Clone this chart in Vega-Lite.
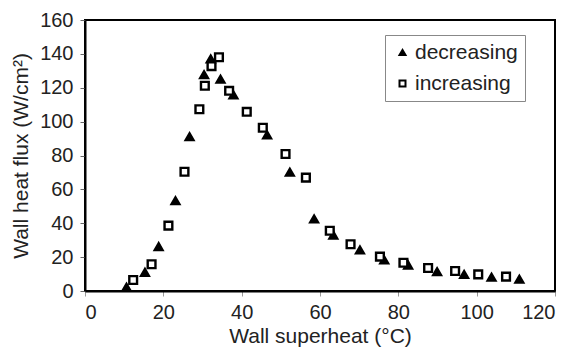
{
  "$schema": "https://vega.github.io/schema/vega-lite/v6.json",
  "width": 470,
  "height": 271,
  "autosize": "none",
  "padding": {"left": 85, "top": 20, "right": 19, "bottom": 56},
  "background": "white",
  "config": {
    "font": "Liberation Sans",
    "view": {"stroke": "black", "strokeWidth": 2},
    "axis": {"grid": false}
  },
  "data": {
    "values": [
      {"x": 10.6, "y": 2.2, "series": "decreasing"},
      {"x": 15.3, "y": 11.0, "series": "decreasing"},
      {"x": 18.8, "y": 26.2, "series": "decreasing"},
      {"x": 23.1, "y": 53.3, "series": "decreasing"},
      {"x": 26.7, "y": 91.1, "series": "decreasing"},
      {"x": 30.4, "y": 127.7, "series": "decreasing"},
      {"x": 32.1, "y": 137.0, "series": "decreasing"},
      {"x": 34.6, "y": 125.0, "series": "decreasing"},
      {"x": 37.9, "y": 115.7, "series": "decreasing"},
      {"x": 46.5, "y": 92.1, "series": "decreasing"},
      {"x": 52.3, "y": 70.1, "series": "decreasing"},
      {"x": 58.5, "y": 42.5, "series": "decreasing"},
      {"x": 63.4, "y": 33.0, "series": "decreasing"},
      {"x": 70.2, "y": 24.2, "series": "decreasing"},
      {"x": 76.4, "y": 18.3, "series": "decreasing"},
      {"x": 82.5, "y": 15.3, "series": "decreasing"},
      {"x": 89.9, "y": 11.4, "series": "decreasing"},
      {"x": 96.8, "y": 9.8, "series": "decreasing"},
      {"x": 103.8, "y": 8.1, "series": "decreasing"},
      {"x": 110.9, "y": 6.9, "series": "decreasing"},
      {"x": 12.3, "y": 6.5, "series": "increasing"},
      {"x": 17.0, "y": 15.8, "series": "increasing"},
      {"x": 21.3, "y": 38.6, "series": "increasing"},
      {"x": 25.4, "y": 70.4, "series": "increasing"},
      {"x": 29.2, "y": 107.3, "series": "increasing"},
      {"x": 30.6, "y": 121.2, "series": "increasing"},
      {"x": 32.3, "y": 132.8, "series": "increasing"},
      {"x": 34.2, "y": 138.0, "series": "increasing"},
      {"x": 36.8, "y": 118.2, "series": "increasing"},
      {"x": 41.3, "y": 105.8, "series": "increasing"},
      {"x": 45.4, "y": 96.4, "series": "increasing"},
      {"x": 51.2, "y": 80.9, "series": "increasing"},
      {"x": 56.4, "y": 66.9, "series": "increasing"},
      {"x": 62.5, "y": 35.6, "series": "increasing"},
      {"x": 67.8, "y": 27.6, "series": "increasing"},
      {"x": 75.3, "y": 20.3, "series": "increasing"},
      {"x": 81.3, "y": 16.7, "series": "increasing"},
      {"x": 87.6, "y": 13.6, "series": "increasing"},
      {"x": 94.5, "y": 11.8, "series": "increasing"},
      {"x": 100.4, "y": 9.8, "series": "increasing"},
      {"x": 107.5, "y": 8.5, "series": "increasing"}
    ]
  },
  "mark": {"type": "point", "filled": true, "stroke": "black", "strokeWidth": 2.4, "opacity": 1},
  "encoding": {
    "x": {
      "field": "x", "type": "quantitative",
      "scale": {"domain": [0, 120], "nice": false},
      "axis": {
        "title": "Wall superheat (°C)", "values": [0, 20, 40, 60, 80, 100, 120],
        "domainColor": "black", "domainWidth": 2, "tickColor": "#999", "tickSize": 5,
        "labelFontSize": 20, "labelColor": "#222", "labelPadding": 6,
        "titleFontSize": 21, "titleFontWeight": "normal", "titleColor": "#222", "titlePadding": 3
      }
    },
    "y": {
      "field": "y", "type": "quantitative",
      "scale": {"domain": [0, 160], "nice": false},
      "axis": {
        "title": "Wall heat flux (W/cm²)", "values": [0, 20, 40, 60, 80, 100, 120, 140, 160],
        "domainColor": "black", "domainWidth": 2, "tickColor": "#666", "tickSize": 5,
        "labelFontSize": 20, "labelColor": "#222", "labelPadding": 7,
        "titleFontSize": 21, "titleFontWeight": "normal", "titleColor": "#222", "titlePadding": 8
      }
    },
    "shape": {
      "field": "series", "type": "nominal",
      "scale": {"domain": ["decreasing", "increasing"], "range": ["triangle-up", "square"]},
      "legend": {
        "title": null, "orient": "none", "legendX": 300, "legendY": 15,
        "labelFontSize": 21, "labelColor": "#222", "strokeColor": "#888", "padding": 7,
        "rowPadding": 9, "symbolSize": 36, "symbolStrokeWidth": 2, "labelOffset": 2
      }
    },
    "fill": {
      "field": "series", "type": "nominal",
      "scale": {"domain": ["decreasing", "increasing"], "range": ["black", "white"]},
      "legend": {
        "title": null, "orient": "none", "legendX": 300, "legendY": 15,
        "labelFontSize": 21, "labelColor": "#222", "strokeColor": "#888", "padding": 7,
        "rowPadding": 9, "symbolSize": 36, "symbolStrokeWidth": 2, "labelOffset": 2
      }
    },
    "size": {"value": 60}
  }
}
